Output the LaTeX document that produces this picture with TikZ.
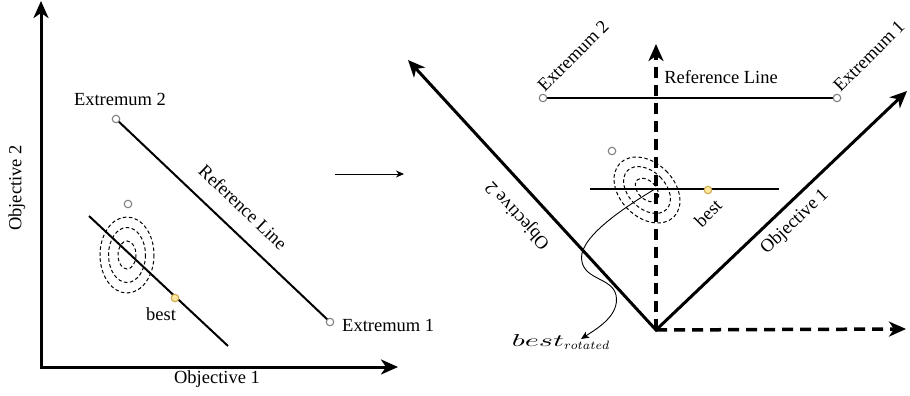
\documentclass[tikz,border=0pt]{standalone}
\usepackage{graphicx}
\usepackage{fontspec}
\setmainfont{Liberation Serif}
\usetikzlibrary{arrows.meta}
\definecolor{ptgray}{RGB}{128,128,128}
\definecolor{ptyfill}{RGB}{255,232,160}
\definecolor{ptyedge}{RGB}{205,170,80}
\tikzset{
  lbl/.style={font=\fontsize{18.5}{22}\selectfont, inner sep=0pt},
  mlbl/.style={font=\normalsize, inner sep=0pt},
  axis/.style={line width=3pt, line join=miter, {Stealth[length=17pt,width=15pt,inset=5pt]}-{Stealth[length=17pt,width=15pt,inset=5pt]}},
  daxis/.style={line width=3.5pt, dash pattern=on 11pt off 7pt, -{Stealth[length=17pt,width=15pt,inset=5pt]}},
  refl/.style={line width=2pt},
  ptc/.style={circle, draw=ptgray, fill=white, line width=1.1pt, minimum size=7.5pt, inner sep=0pt},
  pty/.style={circle, draw=ptyedge, fill=ptyfill, line width=1.1pt, minimum size=7.5pt, inner sep=0pt},
  ell/.style={line width=1pt, dash pattern=on 3.5pt off 2.5pt},
  thinarrow/.style={line width=1pt, -{Stealth[length=8pt,width=7pt]}},
  curvearrow/.style={line width=0.9pt, -{Stealth[length=8pt,width=7pt,inset=2pt]}}
}
\begin{document}
\begin{tikzpicture}[x=1pt,y=-1pt]
\path[use as bounding box] (0,0) rectangle (910,396);

% ---------- left panel ----------
\coordinate (yL) at (41,1);
\coordinate (oL) at (41,367);
\coordinate (xL) at (398,367);
\draw[axis] (yL) -- (oL) -- (xL);
\node[lbl] (ob1L) at (217,379) {Objective 1};
\node[lbl, rotate=90] (ob2L) at (17,188) {Objective 2};

\coordinate (e2Lc) at (116,119);
\coordinate (e1Lc) at (330,322);
\draw[refl] (e2Lc) -- (e1Lc);
\node[ptc] (e2L) at (e2Lc) {};
\node[ptc] (e1L) at (e1Lc) {};
\node[lbl] (te2L) at (120,99) {Extremum 2};
\node[lbl, anchor=west] (te1L) at (342,325) {Extremum 1};
\node[lbl, rotate=-43.5] (trefL) at (243,207) {Reference Line};

\coordinate (c1L) at (127,255);
\draw[ell] (c1L) ellipse (27 and 38);
\draw[ell] (c1L) ellipse (18.5 and 27.5);
\draw[ell] (c1L) ellipse (9 and 14);
\coordinate (sLa) at (89,216);
\coordinate (sLb) at (228,346);
\draw[refl] (sLa) -- (sLb);
\node[ptc] (gL) at (128,204) {};
\node[pty] (yLp) at (175,298) {};
\node[lbl] (bestL) at (161,314) {best};

% ---------- middle arrow ----------
\coordinate (ma) at (335,174);
\coordinate (mb) at (404,174);
\draw[thinarrow] (ma) -- (mb);

% ---------- right panel ----------
\coordinate (oR) at (656,330);
\coordinate (o2R) at (408,60);
\coordinate (o1R) at (907,91);
\coordinate (vR) at (656,44);
\coordinate (hR) at (906,329);
\draw[daxis] (oR) -- (vR);
\draw[daxis] (oR) -- (hR);
\draw[axis] (o2R) -- (oR) -- (o1R);
\node[lbl, rotate=132.6] (ob2R) at (518,215) {Objective 2};
\node[lbl, rotate=43.5] (ob1R) at (795,222) {Objective 1};

\coordinate (e2Rc) at (543,98);
\coordinate (e1Rc) at (837,98);
\draw[refl] (e2Rc) -- (e1Rc);
\node[ptc] (e2R) at (e2Rc) {};
\node[ptc] (e1R) at (e1Rc) {};
\node[lbl] (trefR) at (721,77) {Reference Line};
\node[lbl, rotate=45] (te2R) at (573,56) {Extremum 2};
\node[lbl, rotate=45] (te1R) at (869,56) {Extremum 1};

\coordinate (c1R) at (647,190);
\draw[ell, rotate around={45:(c1R)}] (c1R) ellipse (27 and 38);
\draw[ell, rotate around={45:(c1R)}] (c1R) ellipse (18.5 and 27.5);
\draw[ell, rotate around={45:(c1R)}] (c1R) ellipse (9 and 14);
\coordinate (sRa) at (590,189);
\coordinate (sRb) at (779,189);
\draw[refl] (sRa) -- (sRb);
\node[ptc] (gR) at (612,151) {};
\node[pty] (yRp) at (708,190) {};
\node[lbl, rotate=45] (bestR) at (708,213) {best};

\coordinate (cs) at (655,189);
\coordinate (ce) at (581,339);
\node[mlbl] (brot) at (561,342) {\scalebox{1.73}{$\scalebox{1.75}[1]{$best$}_{rotated}$}};
\draw[curvearrow] (cs) .. controls (620,210) and (576,240) .. (582,262)
  .. controls (586,280) and (612,278) .. (616,295)
  .. controls (620,315) and (598,328) .. (ce);
\end{tikzpicture}
\end{document}
